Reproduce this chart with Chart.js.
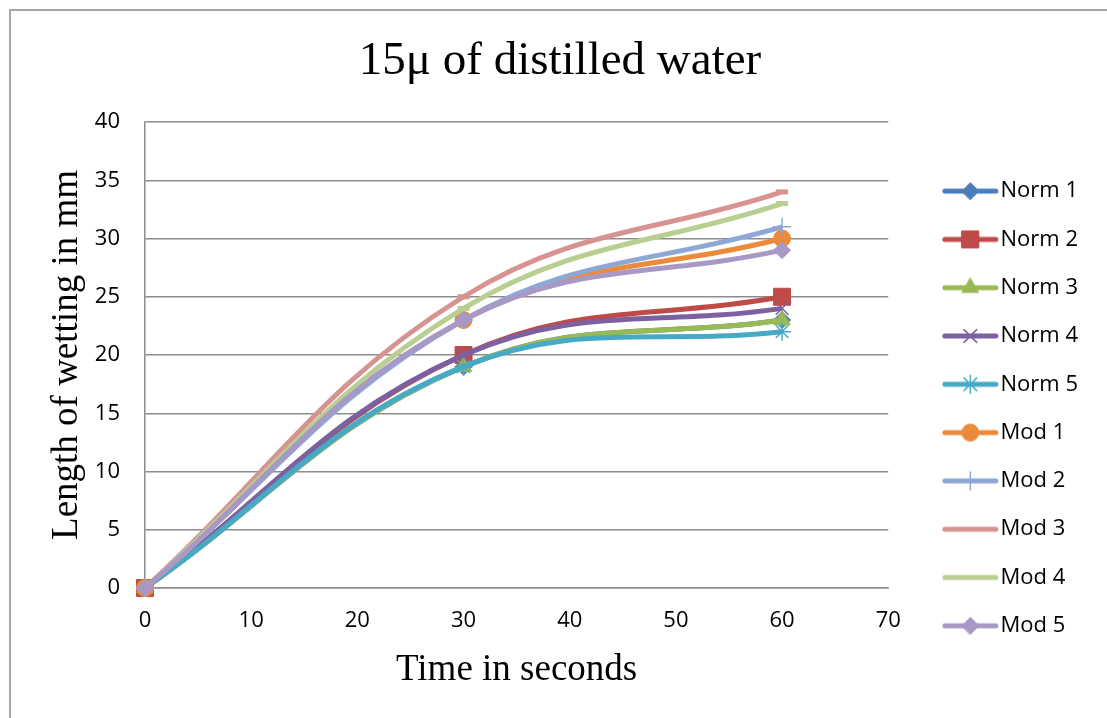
<!DOCTYPE html>
<html>
<head>
<meta charset="utf-8">
<script src="https://cdn.jsdelivr.net/npm/chart.js@4.4.1/dist/chart.umd.min.js"></script>
<style>
  html, body { margin: 0; padding: 0; background: #fff; }
  #wrap { position: relative; width: 1107px; height: 718px; overflow: hidden; }
  #frame { position: absolute; left: 9px; top: 9px; width: 2000px; height: 2000px;
           border-left: 2px solid #a6a6a6; border-top: 2px solid #a6a6a6; }
  #chart { position: absolute; left: 0; top: 0; }
</style>
</head>
<body>
<div id="wrap">
  <div id="frame"></div>
  <canvas id="chart" width="1107" height="718"></canvas>
</div>
<script>
//  Data
const timeSec = [0, 30, 60];
const norm1 = [0, 19, 23];
const norm2 = [0, 20, 25];
const norm3 = [0, 19, 23];
const norm4 = [0, 20, 24];
const norm5 = [0, 19, 22];
const mod1  = [0, 23, 30];
const mod2  = [0, 23, 31];
const mod3  = [0, 25, 34];
const mod4  = [0, 24, 33];
const mod5  = [0, 23, 29];
const yTicks = [0, 5, 10, 15, 20, 25, 30, 35, 40];
const xTicks = [0, 10, 20, 30, 40, 50, 60, 70];

//  Series look (Excel 2007 style)
const seriesDefs = [
  { label: 'Norm 1', values: norm1, color: '#4a7ebb', marker: 'rectRot',  size: 8.5 },
  { label: 'Norm 2', values: norm2, color: '#be4b48', marker: 'rect',     size: 12 },
  { label: 'Norm 3', values: norm3, color: '#98b954', marker: 'triangle', size: 9.5 },
  { label: 'Norm 4', values: norm4, color: '#7d60a0', marker: 'crossRot', size: 9,  thin: true },
  { label: 'Norm 5', values: norm5, color: '#46aac5', marker: 'star',     size: 9,  thin: true },
  { label: 'Mod 1',  values: mod1,  color: '#ec8a3c', marker: 'circle',   size: 8.5 },
  { label: 'Mod 2',  values: mod2,  color: '#8ea8d6', marker: 'cross',    size: 9,  thin: true },
  { label: 'Mod 3',  values: mod3,  color: '#d69391', marker: 'line',     size: 6,  dash: true },
  { label: 'Mod 4',  values: mod4,  color: '#b8cf91', marker: 'line',     size: 6,  dash: true },
  { label: 'Mod 5',  values: mod5,  color: '#a898c6', marker: 'rectRot',  size: 8.5 },
];

const GRID = '#8c8c8c';
const SANS = "'Open Sans', 'Liberation Sans', sans-serif";
const SERIF = "'Liberation Serif', 'Times New Roman', serif";

function markerWidth(s) {
  if (s.dash) return 5;
  return s.thin ? 1.5 : 1;
}

const datasets = seriesDefs.map((s, i) => ({
  label: s.label,
  data: timeSec.map((t, k) => ({ x: t, y: s.values[k] })),
  borderColor: s.color,
  backgroundColor: s.color,
  borderWidth: 5,
  tension: 0.4,
  pointStyle: s.marker,
  pointRadius: s.size,
  pointHoverRadius: s.size,
  pointBackgroundColor: s.color,
  pointBorderColor: s.color,
  pointBorderWidth: markerWidth(s),
  order: seriesDefs.length - i,   // later series on top, like Excel
  clip: false,
}));

//  Legend icon: line with the marker in the middle
function legendIcon(s) {
  const c = document.createElement('canvas');
  c.width = 94; c.height = 24;
  const g = c.getContext('2d');
  g.strokeStyle = s.color;
  g.lineWidth = 5;
  g.lineCap = 'round';
  g.beginPath();
  g.moveTo(39.8, 12);
  g.lineTo(90.8, 12);
  g.stroke();
  if (!s.dash && Chart.helpers && Chart.helpers.drawPoint) {
    g.fillStyle = s.color;
    g.strokeStyle = s.color;
    g.lineWidth = markerWidth(s);
    Chart.helpers.drawPoint(g, { pointStyle: s.marker, radius: s.size, borderWidth: markerWidth(s), rotation: 0 }, 65.3, 12);
  }
  return c;
}
const legendIcons = seriesDefs.map(legendIcon);

Chart.defaults.font.family = SANS;
Chart.defaults.color = '#000';

new Chart(document.getElementById('chart'), {
  type: 'line',
  data: { datasets },
  options: {
    responsive: false,
    devicePixelRatio: 1,
    animation: false,
    layout: { padding: { left: 32, right: 19, top: 0, bottom: 22 } },
    scales: {
      x: {
        type: 'linear',
        min: 0, max: 70,
        afterBuildTicks: axis => { axis.ticks = xTicks.map(v => ({ value: v })); },
        afterFit: axis => { axis.height = 108; },
        ticks: { font: { size: 22 }, color: '#000', padding: 20 },
        grid: { color: 'rgba(0,0,0,0)', drawTicks: false },
        border: { display: true, color: GRID, width: 1.5 },
        title: { display: true, text: 'Time in seconds', color: '#000',
                 font: { family: SERIF, size: 37, weight: 'normal' }, padding: { top: 18, bottom: 4 } },
      },
      y: {
        type: 'linear',
        min: 0, max: 40,
        afterBuildTicks: axis => { axis.ticks = yTicks.map(v => ({ value: v })); },
        afterFit: axis => { axis.width = 113; },
        ticks: { font: { size: 22 }, color: '#000', padding: 25 },
        grid: { color: GRID, lineWidth: 1.5, drawTicks: false },
        border: { display: true, color: GRID, width: 1.5 },
        title: { display: true, text: 'Length of wetting in mm', color: '#000',
                 font: { family: SERIF, size: 37, weight: 'normal' }, padding: { top: 13, bottom: 4 } },
      },
    },
    plugins: {
      title: {
        display: true,
        text: '15μ of distilled water',
        color: '#000',
        font: { family: SERIF, size: 47, weight: 'normal' },
        padding: { top: 33, bottom: 32.6 },
      },
      legend: {
        display: true,
        position: 'right',
        align: 'start',
        title: { display: true, text: '', padding: { top: 139.4, bottom: 0 } },
        labels: {
          usePointStyle: true,
          pointStyleWidth: 75,
          padding: 26.3,
          color: '#000',
          font: { size: 22 },
          generateLabels: chart => chart.data.datasets.map((ds, i) => ({
            text: ds.label,
            fillStyle: ds.borderColor,
            strokeStyle: ds.borderColor,
            lineWidth: 0,
            pointStyle: legendIcons[i],
            hidden: false,
            datasetIndex: i,
          })),
        },
      },
      tooltip: { enabled: false },
    },
  },
});
</script>
</body>
</html>
